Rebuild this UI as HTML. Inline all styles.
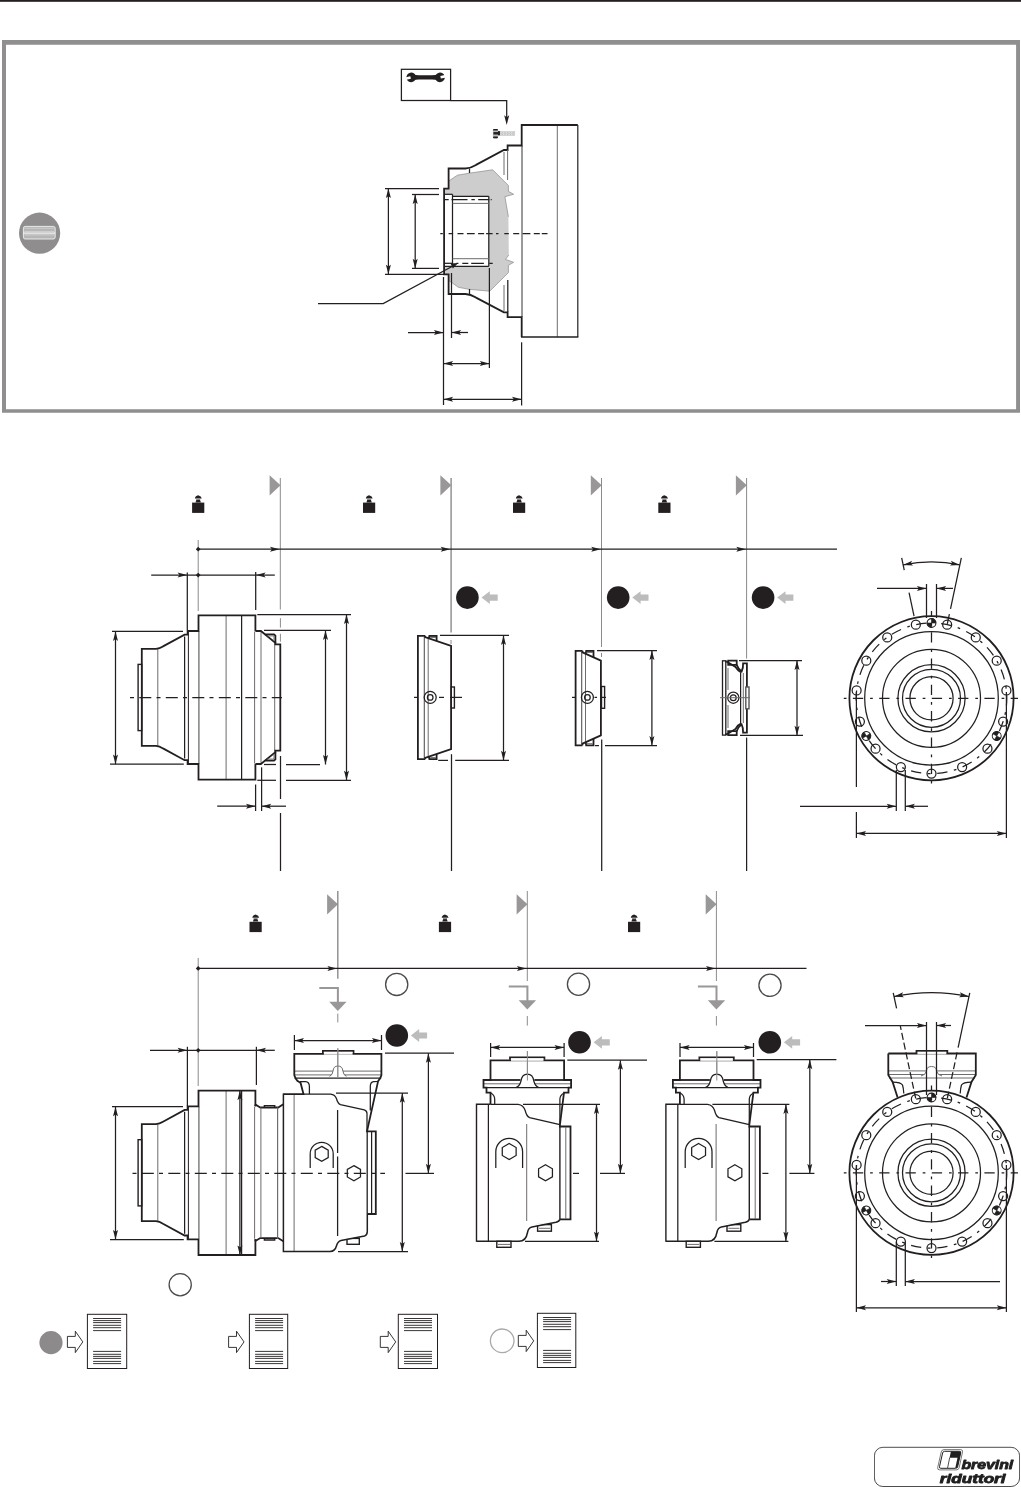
<!DOCTYPE html>
<html lang="it"><head><meta charset="utf-8"><title>brevini riduttori</title>
<style>
html,body{margin:0;padding:0;background:#fff;}
body{width:1021px;height:1487px;overflow:hidden;font-family:"Liberation Sans",sans-serif;}
svg{display:block}
.t{fill:none;stroke:#231f20;stroke-width:1.25}
.tw{fill:#fff;stroke:#231f20;stroke-width:1.2}
.k{fill:none;stroke:#231f20;stroke-width:1.8;stroke-linejoin:miter}
.k2{fill:#fff;stroke:#231f20;stroke-width:1.4}
.a{fill:#231f20;stroke:none}
.gd{fill:none;stroke:#6e6c6d;stroke-width:1}
.gl{fill:none;stroke:#8c8a8b;stroke-width:1}
.gl2{fill:none;stroke:#8c8a8b;stroke-width:1.4}
.gf{fill:#cdcdcd;stroke:none}
.gflag{fill:#999798;stroke:none}
.gbent{fill:none;stroke:#999798;stroke-width:2}
.garrow{fill:#bcbcbc;stroke:none}
</style></head>
<body>
<svg width="1021" height="1487" viewBox="0 0 1021 1487">
<rect x="0" y="0" width="1021" height="1.8" fill="#231f20"/>
<path fill="#908e8f" fill-rule="evenodd" d="M2,40.1 H1020 V412.8 H2 Z M6,44.8 V409.2 H1016.1 V44.8 Z"/>
<g id="keyicon">
<circle cx="39.6" cy="233.2" r="20.6" fill="#8f8d8e"/>
<rect x="23.4" y="226.4" width="31.8" height="12.6" rx="1.8" fill="#b6b6b6" stroke="#f2f2f2" stroke-width="0.9"/>
<line x1="23.4" y1="233.1" x2="55.2" y2="233.1" stroke="#ffffff" stroke-width="1"/>
<line x1="24.4" y1="228.3" x2="54.2" y2="228.3" stroke="#d0d0d0" stroke-width="0.9"/>
<line x1="24.4" y1="231.4" x2="54.2" y2="231.4" stroke="#d8d8d8" stroke-width="0.8"/>
<line x1="24.4" y1="234.9" x2="54.2" y2="234.9" stroke="#d8d8d8" stroke-width="0.8"/>
</g>
<g id="top">
<rect class="t" x="401.4" y="69.3" width="49.2" height="31.2"/>
<g fill="#231f20" stroke="none"><path d="M412,74.2 Q416,75.3 419,75.3 L432,75.3 Q435,75.3 439,74.2 L439,80.6 Q435,79.5 432,79.5 L419,79.5 Q416,79.5 412,80.6 z"/><g transform="rotate(-12 411.2 77.4)"><path d="M406.4,77.4 a4.8,4.8 0 1 0 9.6,0 a4.8,4.8 0 1 0 -9.6,0 z"/><rect x="405" y="76.1" width="5.6" height="2.6" fill="#fff"/></g><g transform="rotate(-12 440 77.4)"><path d="M435.2,77.4 a4.8,4.8 0 1 0 9.6,0 a4.8,4.8 0 1 0 -9.6,0 z"/><rect x="440.6" y="76.1" width="5.6" height="2.6" fill="#fff"/></g></g>
<polyline class="t" points="450.6,100.5 506.7,100.5 506.7,118"/>
<polygon class="a" points="506.7,125 509.2,115.2 506.7,117.16 504.2,115.2"/>
<rect x="492.9" y="129" width="5.2" height="9.4" rx="1.3" fill="#b9b9b9"/>
<rect x="493.1" y="129.1" width="4.8" height="1.5" rx="0.6" fill="#231f20"/><rect x="493.4" y="132.1" width="4.6" height="2.4" fill="#231f20"/><rect x="493.1" y="136.5" width="4.8" height="1.7" rx="0.6" fill="#231f20"/>
<rect x="498" y="131.1" width="2.1" height="4.3" fill="#231f20"/>
<rect x="500.2" y="131.5" width="14.6" height="4.1" fill="#e4e4e4" stroke="#bdbdbd" stroke-width="0.5"/>
<path d="M501.6,132.1 l1.4,1.5 l-1.4,1.5 M503,132.1 l-1.4,1.5 l1.4,1.5" stroke="#a8a8a8" stroke-width="0.5" fill="none"/>
<path d="M504.3,132.1 l1.4,1.5 l-1.4,1.5 M505.7,132.1 l-1.4,1.5 l1.4,1.5" stroke="#a8a8a8" stroke-width="0.5" fill="none"/>
<path d="M507,132.1 l1.4,1.5 l-1.4,1.5 M508.4,132.1 l-1.4,1.5 l1.4,1.5" stroke="#a8a8a8" stroke-width="0.5" fill="none"/>
<path d="M509.7,132.1 l1.4,1.5 l-1.4,1.5 M511.1,132.1 l-1.4,1.5 l1.4,1.5" stroke="#a8a8a8" stroke-width="0.5" fill="none"/>
<path d="M512.4,132.1 l1.4,1.5 l-1.4,1.5 M513.8,132.1 l-1.4,1.5 l1.4,1.5" stroke="#a8a8a8" stroke-width="0.5" fill="none"/>
<polygon class="gf" points="448.6,188.6 448.6,181.1 457.4,175.2 469.2,173.2 492.7,169.8 508.4,185.5 508.4,191.3 513.7,194.3 504.9,196.7 508.4,216.8 508.8,255 505.4,259.4 513.7,262.3 508.4,265.3 508.4,272.6 489.7,291.2 469.2,289.3 458.4,287.3 451.5,282.4 448.6,280.5 448.6,274.3 444.2,274.3 444.2,188.6"/>
<polyline class="gl" points="448.6,181.1 457.4,175.2 469.2,173.2 492.7,169.8 508.4,185.5 508.4,191.3 513.7,194.3 504.9,196.7 508.4,216.8" style="stroke-width:0.7"/>
<polyline class="gl" points="508.8,255 505.4,259.4 513.7,262.3 508.4,265.3 508.4,272.6 489.7,291.2 469.2,289.3 458.4,287.3 451.5,282.4 448.6,280.5" style="stroke-width:0.7"/>
<rect x="444.5" y="194.3" width="8" height="72" fill="#fff"/>
<rect x="452.5" y="196.3" width="36.3" height="70" fill="#fff"/>
<line class="gd" x1="522" y1="145.5" x2="522" y2="317" style="stroke:#777;stroke-width:1.5"/>
<line class="gd" x1="557.3" y1="125" x2="557.3" y2="337"/>
<polyline class="t" points="577.8,125 577.8,337" style="stroke-width:1.2"/>
<path class="k" d="M577.8,125 L521.7,125 L521.7,145.5 L507.6,145.5 L507.6,150 L503.9,150 L476,164.9 Q470.5,168.2 465.5,168.5 L448.6,168.5 L448.6,188.6 L444.1,188.6 L444.1,274.3 L448.6,274.3 L448.6,294 L465.5,294 Q470.5,294.3 476,297.6 L503.9,312.4 L507.6,312.4 L507.6,317.2 L521.7,317.2 L521.7,337"/>
<line class="t" x1="521" y1="337" x2="578.3" y2="337" style="stroke-width:1.4"/>
<line class="gd" x1="507.6" y1="150" x2="507.6" y2="180"/>
<line class="gd" x1="504" y1="152" x2="504" y2="175"/>
<line class="t" x1="507.8" y1="280" x2="507.8" y2="312"/>
<line class="gd" x1="504" y1="285" x2="504" y2="311"/>
<line class="t" x1="469.5" y1="168.5" x2="469.5" y2="173"/>
<line class="t" x1="469.5" y1="289" x2="469.5" y2="294"/>
<line class="t" x1="444.5" y1="194.3" x2="452.5" y2="194.3"/>
<line class="t" x1="452.5" y1="194.3" x2="452.5" y2="266.3"/>
<line class="t" x1="452.5" y1="196.3" x2="488.8" y2="196.3"/>
<line class="t" x1="444.5" y1="266.3" x2="488.8" y2="266.3"/>
<line class="t" x1="488.8" y1="196.3" x2="488.8" y2="266.3"/>
<line class="gd" x1="452.5" y1="203.4" x2="488.8" y2="203.4"/>
<line class="gd" x1="452.5" y1="258.7" x2="488.8" y2="258.7"/>
<line class="t" x1="444.7" y1="263.3" x2="452.5" y2="263.3"/>
<line class="t" x1="444.7" y1="199.5" x2="491.7" y2="199.5" stroke-dasharray="4 2.8 16 3.9 3.4 3.4 11 1.5 3 0"/>
<line class="t" x1="456.4" y1="263.3" x2="492.7" y2="263.3" stroke-dasharray="2 3.9 6 2.9 12.7 5.4 4 0"/>
<line class="t" x1="440.3" y1="233.5" x2="547.5" y2="233.5" stroke-dasharray="2.5 5.8 4.5 4.4 6 3.4 7.8 3.4 6 2 6.5 3.4"/>
<line class="t" x1="385" y1="188.5" x2="439" y2="188.5"/>
<line class="t" x1="385" y1="274.3" x2="444" y2="274.3"/>
<line class="t" x1="388.4" y1="188.5" x2="388.4" y2="274.3"/>
<polygon class="a" points="388.4,188.5 385.9,198.1 388.4,196.18 390.9,198.1"/>
<polygon class="a" points="388.4,274.3 390.9,264.7 388.4,266.62 385.9,264.7"/>
<line class="t" x1="412" y1="194.5" x2="439" y2="194.5"/>
<line class="t" x1="412" y1="268.4" x2="439" y2="268.4"/>
<line class="t" x1="415.2" y1="194.5" x2="415.2" y2="268.4"/>
<polygon class="a" points="415.2,194.5 412.7,204.1 415.2,202.18 417.7,204.1"/>
<polygon class="a" points="415.2,268.4 417.7,258.8 415.2,260.72 412.7,258.8"/>
<polyline class="t" points="318,303.5 383.2,303.5 452,266.5"/>
<polygon class="a" points="458.2,263 450.6,263.6 452.8,268.6"/>
<line class="t" x1="443.5" y1="277" x2="443.5" y2="405"/>
<line class="t" x1="451.5" y1="273" x2="451.5" y2="338"/>
<line class="t" x1="489.4" y1="268" x2="489.4" y2="368"/>
<line class="t" x1="521.6" y1="342.3" x2="521.6" y2="405.5"/>
<line class="t" x1="408" y1="332.5" x2="443.5" y2="332.5"/>
<polygon class="a" points="443.5,332.5 433.9,330 435.82,332.5 433.9,335"/>
<line class="t" x1="451.5" y1="332.5" x2="468" y2="332.5"/>
<polygon class="a" points="451.5,332.5 461.1,335 459.18,332.5 461.1,330"/>
<line class="t" x1="443.5" y1="363.5" x2="489.4" y2="363.5"/>
<polygon class="a" points="443.5,363.5 453.1,366 451.18,363.5 453.1,361"/>
<polygon class="a" points="489.4,363.5 479.8,361 481.72,363.5 479.8,366"/>
<line class="t" x1="443.5" y1="399.3" x2="521.6" y2="399.3"/>
<polygon class="a" points="443.5,399.3 453.1,401.8 451.18,399.3 453.1,396.8"/>
<polygon class="a" points="521.6,399.3 512,396.8 513.92,399.3 512,401.8"/>
</g>
<g id="sec2">
<polygon class="gflag" points="269.6,475.2 269.6,495.4 280.5,485.3"/>
<line class="gl" x1="280.3" y1="478" x2="280.3" y2="609.5"/>
<polygon class="gflag" points="440.4,475.2 440.4,495.4 451.3,485.3"/>
<line class="gl2" x1="451.1" y1="478" x2="451.1" y2="632.5"/>
<polygon class="gflag" points="590.8,475.2 590.8,495.4 601.7,485.3"/>
<line class="gl" x1="601.5" y1="478" x2="601.5" y2="647"/>
<polygon class="gflag" points="735.9,475.2 735.9,495.4 746.8,485.3"/>
<line class="gl" x1="746.6" y1="478" x2="746.6" y2="658.6"/>
<line class="gl" x1="280.4" y1="618.2" x2="280.4" y2="627.6"/>
<line class="gl" x1="280.4" y1="633.8" x2="280.4" y2="641.7"/>
<line class="gl" x1="451" y1="640" x2="451" y2="644"/>
<line class="gl" x1="601.5" y1="653" x2="601.5" y2="657"/>
<g fill="#231f20"><path d="M194.9,498.6 Q195,496.1 198.2,495.2 Q201.4,496.1 201.8,498.6 z"/><path d="M196.4,499.8 L200,499.8 L200.9,502.4 L195.5,502.4 z"/><rect x="196.2" y="498.6" width="4" height="1.4" fill="#8a8a8a"/><rect x="192.1" y="502.6" width="12.2" height="10.3"/></g>
<g fill="#231f20"><path d="M365.8,498.6 Q365.9,496.1 369.1,495.2 Q372.3,496.1 372.7,498.6 z"/><path d="M367.3,499.8 L370.9,499.8 L371.8,502.4 L366.4,502.4 z"/><rect x="367.1" y="498.6" width="4" height="1.4" fill="#8a8a8a"/><rect x="363" y="502.6" width="12.2" height="10.3"/></g>
<g fill="#231f20"><path d="M515.8,498.6 Q515.9,496.1 519.1,495.2 Q522.3,496.1 522.7,498.6 z"/><path d="M517.3,499.8 L520.9,499.8 L521.8,502.4 L516.4,502.4 z"/><rect x="517.1" y="498.6" width="4" height="1.4" fill="#8a8a8a"/><rect x="513" y="502.6" width="12.2" height="10.3"/></g>
<g fill="#231f20"><path d="M661.1,498.6 Q661.2,496.1 664.4,495.2 Q667.6,496.1 668,498.6 z"/><path d="M662.6,499.8 L666.2,499.8 L667.1,502.4 L661.7,502.4 z"/><rect x="662.4" y="498.6" width="4" height="1.4" fill="#8a8a8a"/><rect x="658.3" y="502.6" width="12.2" height="10.3"/></g>
<line class="gl" x1="198.2" y1="540" x2="198.2" y2="611"/>
<line class="t" x1="198.2" y1="549.2" x2="837" y2="549.2"/>
<polygon class="a" points="195.8,549.2 198.2,546.8 200.6,549.2 198.2,551.6"/>
<polygon class="a" points="279.6,549.2 270,546.7 271.92,549.2 270,551.7"/>
<polygon class="a" points="450.3,549.2 440.7,546.7 442.62,549.2 440.7,551.7"/>
<polygon class="a" points="600.8,549.2 591.2,546.7 593.12,549.2 591.2,551.7"/>
<polygon class="a" points="745.9,549.2 736.3,546.7 738.22,549.2 736.3,551.7"/>
<line class="t" x1="151.2" y1="575.1" x2="187.2" y2="575.1"/>
<polygon class="a" points="187.2,575.1 177.6,572.6 179.52,575.1 177.6,577.6"/>
<line class="t" x1="187.2" y1="575.1" x2="256" y2="575.1"/>
<polygon class="a" points="195.8,575.1 198.2,572.7 200.6,575.1 198.2,577.5"/>
<line class="t" x1="256" y1="575.1" x2="274.8" y2="575.1"/>
<polygon class="a" points="256,575.1 265.6,577.6 263.68,575.1 265.6,572.6"/>
<line class="t" x1="187.3" y1="572.4" x2="187.3" y2="630"/>
<line class="t" x1="255.7" y1="572" x2="255.7" y2="610"/>
<line class="gd" x1="157.8" y1="649" x2="157.8" y2="746"/>
<line class="t" x1="184.6" y1="636.5" x2="184.6" y2="758.5"/>
<line class="t" x1="188.4" y1="631.5" x2="188.4" y2="763.5" style="stroke-width:1"/>
<line class="gd" x1="198.9" y1="631.5" x2="198.9" y2="763.5" style="stroke-width:1.4;stroke:#777"/>
<line class="gd" x1="226.1" y1="615.3" x2="226.1" y2="779.7"/>
<line class="t" x1="241.6" y1="615.3" x2="241.6" y2="779.7"/>
<line class="gd" x1="254.6" y1="631.5" x2="254.6" y2="763.5"/>
<rect class="k2" x="138.1" y="664.4" width="3.6" height="66.2"/>
<path class="k" d="M255.4,631 L255.4,615.3 L198.5,615.3 L198.5,631 L187.6,631 L187.6,634.6 L184.6,634.6 L163,646.4 Q159.5,648.5 156,648.9 L141.8,648.9 L141.8,745.9 L156,745.9 Q159.5,746.3 163,748.4 L184.6,760.2 L187.6,760.2 L187.6,764 L198.5,764 L198.5,779.7 L255.4,779.7 L255.4,764"/>
<line class="gd" x1="261" y1="631.5" x2="261" y2="763.5"/>
<line class="gd" x1="274.7" y1="642.5" x2="274.7" y2="752.5"/>
<polyline class="k" points="255.4,631 260.9,631 275.4,642.9 275.4,644.3 280.3,644.3 280.3,697.5"/>
<polyline class="k" points="265.3,634.3 274,634.3 275.4,635.7 275.4,642.9"/>
<polyline class="gd" points="267.5,635.9 274,635.9 274,641"/>
<polyline class="k" points="255.4,764 260.9,764 275.4,752.1 275.4,750.7 280.3,750.7 280.3,697.5"/>
<polyline class="k" points="265.3,760.7 274,760.7 275.4,759.3 275.4,752.1"/>
<polyline class="gd" points="267.5,759.1 274,759.1 274,754"/>
<line class="t" x1="130" y1="697.5" x2="282" y2="697.5" stroke-dasharray="12 5.2 4 5.3" stroke-dashoffset="17.2"/>
<line class="t" x1="112" y1="631.4" x2="183" y2="631.4"/>
<line class="t" x1="110" y1="764.2" x2="183.8" y2="764.2"/>
<line class="t" x1="115.5" y1="631.4" x2="115.5" y2="764.2"/>
<polygon class="a" points="115.5,631.4 113,641 115.5,639.08 118,641"/>
<polygon class="a" points="115.5,764.2 118,754.6 115.5,756.52 113,754.6"/>
<line class="t" x1="257.3" y1="614.5" x2="351" y2="614.5"/>
<line class="t" x1="264" y1="630.4" x2="331" y2="630.4"/>
<line class="t" x1="264" y1="764.5" x2="276" y2="764.5"/>
<line class="t" x1="286" y1="764.5" x2="320" y2="764.5"/>
<line class="t" x1="257.3" y1="780.3" x2="276" y2="780.3"/>
<line class="t" x1="286" y1="780.3" x2="351" y2="780.3"/>
<line class="t" x1="325.5" y1="630.4" x2="325.5" y2="764.5"/>
<polygon class="a" points="325.5,630.4 323,640 325.5,638.08 328,640"/>
<polygon class="a" points="325.5,764.5 328,754.9 325.5,756.82 323,754.9"/>
<line class="t" x1="346.5" y1="614.5" x2="346.5" y2="780.3"/>
<polygon class="a" points="346.5,614.5 344,624.1 346.5,622.18 349,624.1"/>
<polygon class="a" points="346.5,780.3 349,770.7 346.5,772.62 344,770.7"/>
<line class="t" x1="255.6" y1="784.5" x2="255.6" y2="811"/>
<line class="t" x1="261.6" y1="767.3" x2="261.6" y2="811"/>
<line class="t" x1="280.5" y1="756" x2="280.5" y2="799"/>
<line class="t" x1="280.5" y1="813" x2="280.5" y2="871"/>
<line class="t" x1="217.2" y1="806.2" x2="255.6" y2="806.2"/>
<polygon class="a" points="255.6,806.2 246,803.7 247.92,806.2 246,808.7"/>
<line class="t" x1="261.6" y1="806.2" x2="286" y2="806.2"/>
<polygon class="a" points="261.6,806.2 271.2,808.7 269.28,806.2 271.2,803.7"/>
<circle cx="467.4" cy="597.6" r="11.3" fill="#231f20"/>
<polygon class="garrow" points="481.5,597.6 489.8,591.2 489.8,594.5 497.7,594.5 497.7,600.7 489.8,600.7 489.8,604"/>
<circle cx="618.2" cy="597.6" r="11.3" fill="#231f20"/>
<polygon class="garrow" points="632.3,597.6 640.6,591.2 640.6,594.5 648.5,594.5 648.5,600.7 640.6,600.7 640.6,604"/>
<circle cx="763.1" cy="597.6" r="11.3" fill="#231f20"/>
<polygon class="garrow" points="777.2,597.6 785.5,591.2 785.5,594.5 793.4,594.5 793.4,600.7 785.5,600.7 785.5,604"/>
<path class="k" d="M425.1,635.8 L417.9,635.8 L417.9,759.2 L425.1,759.2"/>
<line class="t" x1="424.3" y1="636.4" x2="424.3" y2="758.6" style="stroke-width:1.1;stroke:#555"/>
<line class="gd" x1="428.2" y1="638.3" x2="428.2" y2="756.7"/>
<path class="k" d="M425.1,635.8 L425.1,637 L451.1,645.8 L451.1,749 L425.1,758 L425.1,759.2"/>
<path class="k" d="M428.9,638.29 L429.4,635.8 L436.6,635.8 L436.6,640.89"/>
<path class="k" d="M428.9,756.71 L429.4,759.2 L436.6,759.2 L436.6,754.11"/>
<line class="k" x1="430.2" y1="637.1" x2="435.8" y2="637.1" style="stroke-width:1"/>
<line class="gd" x1="430.2" y1="757.6" x2="435.8" y2="757.6"/>
<circle class="t" cx="430.2" cy="697.4" r="6"/>
<circle class="t" cx="430.2" cy="697.4" r="2.8"/>
<rect class="k2" x="451.3" y="687" width="3.1" height="21"/>
<line class="t" x1="414" y1="697.4" x2="418" y2="697.4"/>
<line class="t" x1="439" y1="697.4" x2="444" y2="697.4"/>
<line class="t" x1="450" y1="697.4" x2="462" y2="697.4"/>
<line class="t" x1="440" y1="635.4" x2="509" y2="635.4"/>
<line class="t" x1="438.2" y1="760.4" x2="448" y2="760.4"/>
<line class="t" x1="455.2" y1="760.4" x2="509" y2="760.4"/>
<line class="t" x1="503.5" y1="635.4" x2="503.5" y2="760.4"/>
<polygon class="a" points="503.5,635.4 501,645 503.5,643.08 506,645"/>
<polygon class="a" points="503.5,760.4 506,750.8 503.5,752.72 501,750.8"/>
<line class="t" x1="451.5" y1="754.2" x2="451.5" y2="871"/>
<path class="k" d="M582.5,650.8 L575.6,650.8 L575.6,745.3 L582.5,745.3"/>
<line class="t" x1="581.7" y1="651.4" x2="581.7" y2="744.7" style="stroke-width:1.1;stroke:#555"/>
<line class="gd" x1="585.5" y1="653.3" x2="585.5" y2="742.8"/>
<path class="k" d="M582.5,650.8 L582.5,652.4 L600.9,660.7 L600.9,735.4 L582.5,743.7 L582.5,745.3"/>
<path class="k" d="M585.7,653.84 L586.2,650.8 L593.5,650.8 L593.5,657.36"/>
<path class="k" d="M585.7,742.26 L586.2,745.3 L593.5,745.3 L593.5,738.74"/>
<line class="k" x1="587" y1="652.1" x2="592.7" y2="652.1" style="stroke-width:1"/>
<line class="gd" x1="587" y1="743.7" x2="592.7" y2="743.7"/>
<circle class="t" cx="587.4" cy="697.4" r="6"/>
<circle class="t" cx="587.4" cy="697.4" r="2.8"/>
<rect class="k2" x="601.5" y="686.5" width="3.1" height="21.8"/>
<line class="t" x1="572" y1="697.4" x2="576" y2="697.4"/>
<line class="t" x1="594.5" y1="697.4" x2="597" y2="697.4"/>
<line class="t" x1="600" y1="697.4" x2="606" y2="697.4"/>
<line class="t" x1="597" y1="650.5" x2="657" y2="650.5"/>
<line class="t" x1="595" y1="745.6" x2="599" y2="745.6"/>
<line class="t" x1="605" y1="745.6" x2="657" y2="745.6"/>
<line class="t" x1="651.9" y1="650.5" x2="651.9" y2="745.6"/>
<polygon class="a" points="651.9,650.5 649.4,660.1 651.9,658.18 654.4,660.1"/>
<polygon class="a" points="651.9,745.6 654.4,736 651.9,737.92 649.4,736"/>
<line class="t" x1="601.7" y1="739.5" x2="601.7" y2="871"/>
<rect class="k" x="722.5" y="660.8" width="3.3" height="74.3" style="stroke-width:1.3;fill:#fff"/>
<polygon class="k" points="728.2,660.7 736.7,660.7 736.7,664.8 728.2,664.8"/>
<polygon class="k" points="728.2,735.2 736.7,735.2 736.7,731.1 728.2,731.1"/>
<path class="k" d="M725.4,661.4 L727.5,662 L735.5,667 Q738.5,671.5 741.2,672.5 M725.4,734.5 L727.5,733.9 L735.5,728.9 Q738.5,724.4 741.2,723.4"/>
<path class="k" d="M736.7,664.8 Q738.6,669.5 741.6,671.6 Q743.4,668 743.1,663.3 L746.9,663.3 L746.9,732.6 L743.1,732.6 Q743.4,727.9 741.6,724.3 Q738.6,726.4 736.7,731.1"/>
<line class="t" x1="740.6" y1="673" x2="740.6" y2="723"/>
<line class="gd" x1="743.3" y1="673" x2="743.3" y2="723"/>
<line class="gd" x1="728" y1="668" x2="728" y2="690"/>
<line class="gd" x1="728" y1="705" x2="728" y2="728"/>
<rect class="k2" x="745.8" y="687" width="3.2" height="21.8" style="stroke:#555"/>
<circle class="t" cx="733.3" cy="697.7" r="5.6"/>
<circle class="t" cx="733.3" cy="697.7" r="2.9"/>
<line class="gd" x1="720" y1="697.7" x2="750" y2="697.7"/>
<line class="t" x1="739" y1="660.5" x2="802" y2="660.5"/>
<line class="t" x1="740" y1="735.4" x2="803" y2="735.4"/>
<line class="t" x1="797" y1="660.5" x2="797" y2="735.4"/>
<polygon class="a" points="797,660.5 794.5,670.1 797,668.18 799.5,670.1"/>
<polygon class="a" points="797,735.4 799.5,725.8 797,727.72 794.5,725.8"/>
<line class="t" x1="746.6" y1="737.6" x2="746.6" y2="871"/>
<circle class="k" cx="931.5" cy="698.3" r="82.1"/>
<path class="t" d="M931.5,623 A75.3,75.3 0 1 1 931.49,623" stroke-dasharray="10.3 6.7 2.7 6.63" stroke-dashoffset="16.63"/>
<circle class="t" cx="931.5" cy="698.3" r="66.8"/>
<circle class="t" cx="931.5" cy="698.3" r="49"/>
<circle class="t" cx="931.5" cy="698.3" r="33.6"/>
<circle class="t" cx="931.5" cy="698.3" r="29"/>
<circle class="t" cx="931.5" cy="698.3" r="21.6"/>
<circle class="t" cx="947.16" cy="624.65" r="4.5"/>
<circle class="t" cx="975.76" cy="637.38" r="4.5"/>
<circle class="t" cx="996.71" cy="660.65" r="4.5"/>
<circle class="t" cx="1006.39" cy="690.43" r="4.5"/>
<circle class="t" cx="1003.11" cy="721.57" r="4.5"/>
<circle class="t" cx="987.46" cy="748.69" r="4.5"/>
<circle class="t" cx="962.13" cy="767.09" r="4.5"/>
<circle class="t" cx="931.5" cy="773.6" r="4.5"/>
<circle class="t" cx="900.87" cy="767.09" r="4.5"/>
<circle class="t" cx="875.54" cy="748.69" r="4.5"/>
<circle class="t" cx="859.89" cy="721.57" r="4.5"/>
<circle class="t" cx="856.61" cy="690.43" r="4.5"/>
<circle class="t" cx="866.29" cy="660.65" r="4.5"/>
<circle class="t" cx="887.24" cy="637.38" r="4.5"/>
<circle class="t" cx="915.84" cy="624.65" r="4.5"/>
<g transform="rotate(0 931.5 623)"><circle cx="931.5" cy="623" r="4.4" fill="#fff" stroke="#231f20" stroke-width="1.1"/><path d="M931.5,623 L931.5,618.6 A4.4,4.4 0 0 1 935.9,623 z M931.5,623 L931.5,627.4 A4.4,4.4 0 0 1 927.1,623 z" fill="#231f20" stroke="#231f20" stroke-width="0.6"/></g>
<g transform="rotate(120 996.71 735.95)"><circle cx="996.71" cy="735.95" r="4.4" fill="#fff" stroke="#231f20" stroke-width="1.1"/><path d="M996.71,735.95 L996.71,731.55 A4.4,4.4 0 0 1 1001.11,735.95 z M996.71,735.95 L996.71,740.35 A4.4,4.4 0 0 1 992.31,735.95 z" fill="#231f20" stroke="#231f20" stroke-width="0.6"/></g>
<g transform="rotate(240 866.29 735.95)"><circle cx="866.29" cy="735.95" r="4.4" fill="#fff" stroke="#231f20" stroke-width="1.1"/><path d="M866.29,735.95 L866.29,731.55 A4.4,4.4 0 0 1 870.69,735.95 z M866.29,735.95 L866.29,740.35 A4.4,4.4 0 0 1 861.89,735.95 z" fill="#231f20" stroke="#231f20" stroke-width="0.6"/></g>
<line class="t" x1="843" y1="698.3" x2="1018" y2="698.3" stroke-dasharray="10.3 6.9 2.7 6.4" stroke-dashoffset="16.4"/>
<line class="t" x1="931.5" y1="610.9" x2="931.5" y2="785.8" stroke-dasharray="10.3 6.9 2.7 6.4" stroke-dashoffset="5"/>
<line class="t" x1="950.52" y1="608.8" x2="961.34" y2="557.94"/>
<line class="t" x1="947.3" y1="623.96" x2="949.38" y2="614.18"/>
<line class="t" x1="914.04" y1="616.14" x2="909.05" y2="592.66"/>
<line class="t" x1="904.26" y1="570.16" x2="901.66" y2="557.94"/>
<path class="t" d="M903.14,564.88 A136.4,136.4 0 0 1 959.86,564.88"/>
<polygon class="a" points="903.14,564.88 913.04,565.59 910.69,563.48 912.12,560.67"/>
<polygon class="a" points="959.86,564.88 950.88,560.67 952.31,563.48 949.96,565.59"/>
<line class="t" x1="926.5" y1="584" x2="926.5" y2="618"/>
<line class="t" x1="936.5" y1="584" x2="936.5" y2="618"/>
<line class="t" x1="877" y1="588.4" x2="926.5" y2="588.4"/>
<polygon class="a" points="926.5,588.4 916.9,585.9 918.82,588.4 916.9,590.9"/>
<line class="t" x1="936.5" y1="588.4" x2="953" y2="588.4"/>
<polygon class="a" points="936.5,588.4 946.1,590.9 944.18,588.4 946.1,585.9"/>
<line class="t" x1="856.4" y1="692" x2="856.4" y2="787"/>
<line class="t" x1="856.4" y1="812" x2="856.4" y2="838"/>
<line class="t" x1="1006.4" y1="692" x2="1006.4" y2="838"/>
<line class="t" x1="856.4" y1="833.4" x2="1006.4" y2="833.4"/>
<polygon class="a" points="856.4,833.4 866,835.9 864.08,833.4 866,830.9"/>
<polygon class="a" points="1006.4,833.4 996.8,830.9 998.72,833.4 996.8,835.9"/>
<line class="t" x1="896.3" y1="770" x2="896.3" y2="811"/>
<line class="t" x1="905.3" y1="770" x2="905.3" y2="811"/>
<line class="t" x1="800" y1="806.3" x2="896.3" y2="806.3"/>
<polygon class="a" points="896.3,806.3 886.7,803.8 888.62,806.3 886.7,808.8"/>
<line class="t" x1="905.3" y1="806.3" x2="928" y2="806.3"/>
<polygon class="a" points="905.3,806.3 914.9,808.8 912.98,806.3 914.9,803.8"/>
</g>
<g id="sec3">
<polygon class="gflag" points="327.1,894.2 327.1,914.4 338,904.3"/>
<line class="gl2" x1="337.8" y1="891" x2="337.8" y2="978.7"/>
<polygon class="gflag" points="516.6,894.2 516.6,914.4 527.5,904.3"/>
<line class="gl" x1="527.3" y1="891" x2="527.3" y2="981"/>
<polygon class="gflag" points="705.7,894.2 705.7,914.4 716.6,904.3"/>
<line class="gl" x1="716.4" y1="891" x2="716.4" y2="981"/>
<polyline class="gbent" points="319.3,988.1 337.9,988.1 337.9,1002.6"/>
<polygon class="gflag" points="329.2,1001.7 346.6,1001.7 337.8,1011.1"/>
<line class="gl" x1="337.8" y1="1013.6" x2="337.8" y2="1022.4"/>
<polyline class="gbent" points="508.8,986.6 527.4,986.6 527.4,1001.1"/>
<polygon class="gflag" points="518.7,1000.2 536.1,1000.2 527.3,1009.4"/>
<line class="gl" x1="527.3" y1="1016" x2="527.3" y2="1025.6"/>
<polyline class="gbent" points="697.9,986.6 716.5,986.6 716.5,1001.1"/>
<polygon class="gflag" points="707.8,1000.2 725.2,1000.2 716.4,1009.4"/>
<line class="gl" x1="716.4" y1="1016" x2="716.4" y2="1025.6"/>
<g fill="#231f20"><path d="M252.3,917.8 Q252.4,915.3 255.6,914.4 Q258.8,915.3 259.2,917.8 z"/><path d="M253.8,919 L257.4,919 L258.3,921.6 L252.9,921.6 z"/><rect x="253.6" y="917.8" width="4" height="1.4" fill="#8a8a8a"/><rect x="249.5" y="921.8" width="12.2" height="10.3"/></g>
<g fill="#231f20"><path d="M441.7,917.8 Q441.8,915.3 445,914.4 Q448.2,915.3 448.6,917.8 z"/><path d="M443.2,919 L446.8,919 L447.7,921.6 L442.3,921.6 z"/><rect x="443" y="917.8" width="4" height="1.4" fill="#8a8a8a"/><rect x="438.9" y="921.8" width="12.2" height="10.3"/></g>
<g fill="#231f20"><path d="M630.8,917.8 Q630.9,915.3 634.1,914.4 Q637.3,915.3 637.7,917.8 z"/><path d="M632.3,919 L635.9,919 L636.8,921.6 L631.4,921.6 z"/><rect x="632.1" y="917.8" width="4" height="1.4" fill="#8a8a8a"/><rect x="628" y="921.8" width="12.2" height="10.3"/></g>
<line class="gl" x1="198.2" y1="958" x2="198.2" y2="1086"/>
<line class="t" x1="198.2" y1="968.4" x2="806.5" y2="968.4"/>
<polygon class="a" points="195.8,968.4 198.2,966 200.6,968.4 198.2,970.8"/>
<polygon class="a" points="337,968.4 327.4,965.9 329.32,968.4 327.4,970.9"/>
<polygon class="a" points="526.5,968.4 516.9,965.9 518.82,968.4 516.9,970.9"/>
<polygon class="a" points="715.6,968.4 706,965.9 707.92,968.4 706,970.9"/>
<line class="t" x1="150" y1="1050.3" x2="187.2" y2="1050.3"/>
<polygon class="a" points="187.2,1050.3 177.6,1047.8 179.52,1050.3 177.6,1052.8"/>
<line class="t" x1="187.2" y1="1050.3" x2="256.4" y2="1050.3"/>
<polygon class="a" points="195.8,1050.3 198.2,1047.9 200.6,1050.3 198.2,1052.7"/>
<line class="t" x1="256.4" y1="1050.3" x2="274.8" y2="1050.3"/>
<polygon class="a" points="256.4,1050.3 266,1052.8 264.08,1050.3 266,1047.8"/>
<line class="t" x1="187.4" y1="1046.8" x2="187.4" y2="1106"/>
<line class="t" x1="256.4" y1="1046.8" x2="256.4" y2="1085"/>
<circle cx="396.7" cy="984.4" r="11.1" fill="#fff" stroke="#4a4a4a" stroke-width="1.3"/>
<circle cx="578.5" cy="984.2" r="11.1" fill="#fff" stroke="#4a4a4a" stroke-width="1.3"/>
<circle cx="770" cy="985.3" r="11.1" fill="#fff" stroke="#4a4a4a" stroke-width="1.3"/>
<circle cx="180.2" cy="1284.7" r="11.1" fill="#fff" stroke="#4a4a4a" stroke-width="1.3"/>
<line class="gd" x1="157.8" y1="1124.3" x2="157.8" y2="1221.3"/>
<line class="t" x1="184.6" y1="1111.8" x2="184.6" y2="1233.8"/>
<line class="t" x1="188.4" y1="1106.8" x2="188.4" y2="1238.8" style="stroke-width:1"/>
<line class="gd" x1="198.9" y1="1106.8" x2="198.9" y2="1238.8" style="stroke-width:1.4;stroke:#777"/>
<line class="gd" x1="226.1" y1="1090.6" x2="226.1" y2="1255"/>
<line class="t" x1="241.6" y1="1090.6" x2="241.6" y2="1255"/>
<line class="gd" x1="254.6" y1="1106.8" x2="254.6" y2="1238.8"/>
<rect class="k2" x="138.1" y="1139.7" width="3.6" height="66.2"/>
<path class="k" d="M255.4,1106.3 L255.4,1090.6 L198.5,1090.6 L198.5,1106.3 L187.6,1106.3 L187.6,1109.9 L184.6,1109.9 L163,1121.7 Q159.5,1123.8 156,1124.2 L141.8,1124.2 L141.8,1221.2 L156,1221.2 Q159.5,1221.6 163,1223.7 L184.6,1235.5 L187.6,1235.5 L187.6,1239.3 L198.5,1239.3 L198.5,1255 L255.4,1255 L255.4,1239.3"/>
<line class="t" x1="112" y1="1106.7" x2="183" y2="1106.7"/>
<line class="t" x1="110" y1="1239.5" x2="183.8" y2="1239.5"/>
<line class="t" x1="115.5" y1="1106.7" x2="115.5" y2="1239.5"/>
<polygon class="a" points="115.5,1106.7 113,1116.3 115.5,1114.38 118,1116.3"/>
<polygon class="a" points="115.5,1239.5 118,1229.9 115.5,1231.82 113,1229.9"/>
<line class="t" x1="239.9" y1="1090.6" x2="239.9" y2="1255"/>
<polygon class="a" points="239.9,1090.6 237.4,1100.2 239.9,1098.28 242.4,1100.2"/>
<polygon class="a" points="239.9,1255 242.4,1245.4 239.9,1247.32 237.4,1245.4"/>
<polyline class="k" points="255.4,1104.6 260.3,1107.5 278.2,1107.5 283.3,1104.3"/>
<polyline class="k" points="264.4,1107.5 264.4,1105.6 274.7,1105.6 274.7,1107.5" style="stroke-width:1.4"/>
<line class="k" x1="255.4" y1="1106.3" x2="255.4" y2="1104.6"/>
<polyline class="k" points="255.4,1241 260.3,1238.1 278.2,1238.1 283.3,1241.3"/>
<polyline class="k" points="264.4,1238.1 264.4,1240 274.7,1240 274.7,1238.1" style="stroke-width:1.4"/>
<line class="k" x1="255.4" y1="1239.3" x2="255.4" y2="1241"/>
<line class="gd" x1="260.9" y1="1107.5" x2="260.9" y2="1238.1"/>
<line class="gd" x1="277.6" y1="1107.5" x2="277.6" y2="1238.1"/>
<line class="gd" x1="294.1" y1="1094" x2="294.1" y2="1251.5"/>
<line class="gd" x1="277.6" y1="1107.5" x2="277.6" y2="1239"/>
<line class="gd" x1="294.6" y1="1071.1" x2="381.2" y2="1071.1"/>
<line class="gd" x1="294.6" y1="1074.9" x2="381.2" y2="1074.9"/>
<line class="t" x1="294.6" y1="1078.2" x2="381.2" y2="1078.2"/>
<path d="M329.5,1076.3 Q332.3,1075.6 333,1071 Q333.5,1066 337.9,1066 Q342.4,1066 342.9,1071 Q343.6,1075.6 346.5,1076.3 z" fill="#fff" stroke="none"/>
<path class="gd" d="M329.5,1076.3 Q332.3,1075.6 333,1071 Q333.5,1066 337.9,1066 Q342.4,1066 342.9,1071 Q343.6,1075.6 346.5,1076.3"/>
<rect class="k2" x="347" y="1238.4" width="12.3" height="5.9"/>
<polygon points="346,1237 360,1237 360,1236.5 346,1239.3" fill="#fff"/>
<path class="k" d="M283.4,1094.1 L303.5,1094.1 L300.6,1082.9 Q298.6,1081.8 297.6,1081.1 Q295.2,1078.4 294.3,1075.3 L294.3,1053.9 L381.4,1053.9 L381.4,1075.3 Q380.5,1078.5 378.1,1081.1 L367,1131.4 L375.8,1131.4 L375.8,1214 L367.3,1214"/>
<path class="k" d="M367.3,1214 L367.3,1231.5 Q367.2,1235.3 364.5,1236 L341,1240.5 Q337.8,1241.4 336.6,1245.5 Q335,1251.5 330,1251.5 L283.4,1251.5 L283.4,1093.4" style="stroke-width:1.5"/>
<polyline class="k" points="322.9,1053.4 322.9,1050.9 353.5,1050.9 353.5,1053.4"/>
<rect x="323.9" y="1051.9" width="28.6" height="2.9" fill="#fff"/>
<line class="gd" x1="324" y1="1054.3" x2="352.5" y2="1054.3" style="stroke-width:0.6;stroke:#aaa"/>
<line class="gl2" x1="337.8" y1="1048.2" x2="337.8" y2="1078"/>
<line class="t" x1="367.2" y1="1131.4" x2="367.2" y2="1214" style="stroke-width:1.3"/>
<line class="t" x1="371.6" y1="1132" x2="371.6" y2="1214"/>
<path class="t" d="M300,1081.7 L305.6,1081.7 Q309.4,1082 309.4,1086.4 L309.4,1094"/>
<path class="t" d="M378.3,1081.5 L373.6,1081.7 Q370.3,1082.2 370.3,1086.4 L370.3,1110.5"/>
<path class="t" d="M303.5,1094.1 L330.5,1094.1 Q335.2,1094.5 336.6,1099 Q337.6,1103.4 340.5,1104.6 L364.3,1109.9 Q367,1110.8 367,1113.5 L367,1131.4"/>
<line class="t" x1="337.6" y1="1109.9" x2="337.6" y2="1236" stroke-dasharray="43 3.5 90"/>
<polygon class="t" points="321.7,1146.4 328.2,1150.15 328.2,1157.65 321.7,1161.4 315.2,1157.65 315.2,1150.15"/>
<path class="t" d="M310.2,1167.9 L310.2,1153.8 A11.5,11.5 0 0 1 333.2,1153.8 L333.2,1167.9"/>
<polygon class="t" points="353.9,1165.6 360.48,1169.4 360.48,1177 353.9,1180.8 347.32,1177 347.32,1169.4"/>
<line class="t" x1="132.5" y1="1173.4" x2="385" y2="1173.4" stroke-dasharray="12 5.2 4 5.3" stroke-dashoffset="17.2"/>
<line class="t" x1="294.4" y1="1035" x2="294.4" y2="1050"/>
<line class="t" x1="381.5" y1="1035" x2="381.5" y2="1050"/>
<line class="t" x1="294.4" y1="1040.6" x2="381.5" y2="1040.6"/>
<polygon class="a" points="294.4,1040.6 304,1043.1 302.08,1040.6 304,1038.1"/>
<polygon class="a" points="381.5,1040.6 371.9,1038.1 373.82,1040.6 371.9,1043.1"/>
<circle cx="396.8" cy="1035.5" r="11.3" fill="#231f20"/>
<polygon class="garrow" points="410.9,1035.5 419.2,1029.1 419.2,1032.4 427.1,1032.4 427.1,1038.6 419.2,1038.6 419.2,1041.9"/>
<line class="t" x1="385" y1="1053.2" x2="454" y2="1053.2"/>
<line class="t" x1="336" y1="1093.1" x2="408" y2="1093.1"/>
<line class="t" x1="405.5" y1="1173.4" x2="434" y2="1173.4"/>
<line class="t" x1="338" y1="1251.5" x2="408" y2="1251.5"/>
<line class="t" x1="428.4" y1="1053.2" x2="428.4" y2="1173.4"/>
<polygon class="a" points="428.4,1053.2 425.9,1062.8 428.4,1060.88 430.9,1062.8"/>
<polygon class="a" points="428.4,1173.4 430.9,1163.8 428.4,1165.72 425.9,1163.8"/>
<line class="t" x1="402.3" y1="1093.1" x2="402.3" y2="1251.5"/>
<polygon class="a" points="402.3,1093.1 399.8,1102.7 402.3,1100.78 404.8,1102.7"/>
<polygon class="a" points="402.3,1251.5 404.8,1241.9 402.3,1243.82 399.8,1241.9"/>
<line class="t" x1="488.4" y1="1104.5" x2="488.4" y2="1241"/>
<line class="gd" x1="484" y1="1083.8" x2="571" y2="1083.8"/>
<path class="t" d="M516.2,1087.3 Q519.6,1086.3 521,1081 Q522,1074.1 527.4,1074.1 Q532.8,1074.1 533.8,1081 Q535.2,1086.3 538.6,1087.3" style="fill:#fff"/>
<line class="gl" x1="527.4" y1="1051.2" x2="527.4" y2="1080.5"/>
<line class="gd" x1="526.7" y1="1124" x2="526.7" y2="1221"/>
<rect class="k2" x="537.6" y="1224.6" width="13.8" height="6.6"/>
<line class="gd" x1="539" y1="1228.3" x2="550" y2="1228.3"/>
<polygon points="536.5,1223.5 552.5,1223.5 552.5,1222.6 536.5,1225.7" fill="#fff"/>
<path class="k" d="M490.5,1104.3 L490.5,1092.7 L486.5,1092.7 L486.5,1087.6 L483.5,1087.6 L483.5,1080 L490.5,1080 L490.5,1060.3 L564.1,1060.3 L564.1,1080 L571.1,1080 L571.1,1087.6 L568.5,1087.6 L568.5,1092.7 L564,1092.7 L559.9,1125 L559.9,1126.5 L570.5,1126.5 L570.5,1219.3 L559.9,1219.3"/>
<path class="k" d="M559.9,1219.3 Q559.3,1221.5 556,1222.3 L532,1227 Q528.3,1227.9 527.5,1232.5 Q526,1241.3 519,1241.3 L476.5,1241.3" style="stroke-width:1.5"/>
<polyline class="t" points="476.5,1241.8 476.5,1104.3 490.5,1104.3" style="stroke-width:1.4"/>
<polyline class="k" points="510,1059.8 510,1057.3 544.4,1057.3 544.4,1059.8"/>
<rect x="511" y="1058.3" width="32.4" height="3" fill="#fff"/>
<line class="gd" x1="511" y1="1060.8" x2="543.4" y2="1060.8" style="stroke-width:0.6;stroke:#aaa"/>
<line class="gl" x1="527.4" y1="1051.2" x2="527.4" y2="1074"/>
<line class="k" x1="490.5" y1="1080" x2="520.5" y2="1080"/>
<line class="k" x1="534.3" y1="1080" x2="564.1" y2="1080"/>
<line class="t" x1="486.5" y1="1087.6" x2="568.5" y2="1087.6"/>
<line class="t" x1="559.9" y1="1126.5" x2="559.9" y2="1219.3" style="stroke-width:1.4"/>
<line class="gd" x1="565.8" y1="1127" x2="565.8" y2="1219"/>
<path class="t" d="M490.8,1093 Q494.5,1095 494.7,1099 L494.7,1104.3"/>
<path class="t" d="M563.6,1093.2 Q560.2,1095 559.9,1099 L559.9,1124"/>
<path class="t" d="M490.5,1104.3 L518.2,1104.3 Q523.4,1104.9 525.2,1110.5 Q526.4,1116 529.6,1117.6 L559.9,1124.7"/>
<polygon class="t" points="509.2,1143.5 516.13,1147.5 516.13,1155.5 509.2,1159.5 502.27,1155.5 502.27,1147.5"/>
<path class="t" d="M495.8,1167.9 L495.8,1151.7 A13.4,13.4 0 0 1 522.6,1151.7 L522.6,1167.9"/>
<polygon class="t" points="545.5,1164.8 552.43,1168.8 552.43,1176.8 545.5,1180.8 538.57,1176.8 538.57,1168.8"/>
<rect class="k2" x="496.8" y="1241.3" width="14.2" height="6"/>
<line class="gd" x1="498" y1="1244.4" x2="510" y2="1244.4"/>
<line class="t" x1="573" y1="1173.4" x2="579" y2="1173.4"/>
<line class="t" x1="490.6" y1="1043" x2="490.6" y2="1057"/>
<line class="t" x1="564.1" y1="1043" x2="564.1" y2="1057"/>
<line class="t" x1="490.6" y1="1047.4" x2="564.1" y2="1047.4"/>
<polygon class="a" points="490.6,1047.4 500.2,1049.9 498.28,1047.4 500.2,1044.9"/>
<polygon class="a" points="564.1,1047.4 554.5,1044.9 556.42,1047.4 554.5,1049.9"/>
<circle cx="579.5" cy="1042.3" r="11.3" fill="#231f20"/>
<polygon class="garrow" points="593.6,1042.3 601.9,1035.9 601.9,1039.2 609.8,1039.2 609.8,1045.4 601.9,1045.4 601.9,1048.7"/>
<line class="t" x1="567.3" y1="1060.2" x2="647" y2="1060.2"/>
<line class="t" x1="523" y1="1104.3" x2="600" y2="1104.3"/>
<line class="t" x1="600" y1="1173.4" x2="625" y2="1173.4"/>
<line class="t" x1="525" y1="1241.3" x2="599" y2="1241.3"/>
<line class="t" x1="620.4" y1="1060.2" x2="620.4" y2="1173.4"/>
<polygon class="a" points="620.4,1060.2 617.9,1069.8 620.4,1067.88 622.9,1069.8"/>
<polygon class="a" points="620.4,1173.4 622.9,1163.8 620.4,1165.72 617.9,1163.8"/>
<line class="t" x1="596.5" y1="1104.3" x2="596.5" y2="1241.3"/>
<polygon class="a" points="596.5,1104.3 594,1113.9 596.5,1111.98 599,1113.9"/>
<polygon class="a" points="596.5,1241.3 599,1231.7 596.5,1233.62 594,1231.7"/>
<line class="t" x1="677.8" y1="1104.5" x2="677.8" y2="1241"/>
<line class="gd" x1="673.4" y1="1083.8" x2="760.4" y2="1083.8"/>
<path class="t" d="M705.6,1087.3 Q709,1086.3 710.4,1081 Q711.4,1074.1 716.8,1074.1 Q722.2,1074.1 723.2,1081 Q724.6,1086.3 728,1087.3" style="fill:#fff"/>
<line class="gl" x1="716.8" y1="1051.2" x2="716.8" y2="1080.5"/>
<line class="gd" x1="716.1" y1="1124" x2="716.1" y2="1221"/>
<rect class="k2" x="727" y="1224.6" width="13.8" height="6.6"/>
<line class="gd" x1="728.4" y1="1228.3" x2="739.4" y2="1228.3"/>
<polygon points="725.9,1223.5 741.9,1223.5 741.9,1222.6 725.9,1225.7" fill="#fff"/>
<path class="k" d="M679.9,1104.3 L679.9,1092.7 L675.9,1092.7 L675.9,1087.6 L672.9,1087.6 L672.9,1080 L679.9,1080 L679.9,1060.3 L753.5,1060.3 L753.5,1080 L760.5,1080 L760.5,1087.6 L757.9,1087.6 L757.9,1092.7 L753.4,1092.7 L749.3,1125 L749.3,1126.5 L759.9,1126.5 L759.9,1219.3 L749.3,1219.3"/>
<path class="k" d="M749.3,1219.3 Q748.7,1221.5 745.4,1222.3 L721.4,1227 Q717.7,1227.9 716.9,1232.5 Q715.4,1241.3 708.4,1241.3 L665.9,1241.3" style="stroke-width:1.5"/>
<polyline class="t" points="665.9,1241.8 665.9,1104.3 679.9,1104.3" style="stroke-width:1.4"/>
<polyline class="k" points="699.4,1059.8 699.4,1057.3 733.8,1057.3 733.8,1059.8"/>
<rect x="700.4" y="1058.3" width="32.4" height="3" fill="#fff"/>
<line class="gd" x1="700.4" y1="1060.8" x2="732.8" y2="1060.8" style="stroke-width:0.6;stroke:#aaa"/>
<line class="gl" x1="716.8" y1="1051.2" x2="716.8" y2="1074"/>
<line class="k" x1="679.9" y1="1080" x2="709.9" y2="1080"/>
<line class="k" x1="723.7" y1="1080" x2="753.5" y2="1080"/>
<line class="t" x1="675.9" y1="1087.6" x2="757.9" y2="1087.6"/>
<line class="t" x1="749.3" y1="1126.5" x2="749.3" y2="1219.3" style="stroke-width:1.4"/>
<line class="gd" x1="755.2" y1="1127" x2="755.2" y2="1219"/>
<path class="t" d="M680.2,1093 Q683.9,1095 684.1,1099 L684.1,1104.3"/>
<path class="t" d="M753,1093.2 Q749.6,1095 749.3,1099 L749.3,1124"/>
<path class="t" d="M679.9,1104.3 L707.6,1104.3 Q712.8,1104.9 714.6,1110.5 Q715.8,1116 719,1117.6 L749.3,1124.7"/>
<polygon class="t" points="698.6,1143.5 705.53,1147.5 705.53,1155.5 698.6,1159.5 691.67,1155.5 691.67,1147.5"/>
<path class="t" d="M685.2,1167.9 L685.2,1151.7 A13.4,13.4 0 0 1 712,1151.7 L712,1167.9"/>
<polygon class="t" points="734.9,1164.8 741.83,1168.8 741.83,1176.8 734.9,1180.8 727.97,1176.8 727.97,1168.8"/>
<rect class="k2" x="686.2" y="1241.3" width="14.2" height="6"/>
<line class="gd" x1="687.4" y1="1244.4" x2="699.4" y2="1244.4"/>
<line class="t" x1="762.4" y1="1173.4" x2="768.4" y2="1173.4"/>
<line class="t" x1="680" y1="1043" x2="680" y2="1057"/>
<line class="t" x1="753.5" y1="1043" x2="753.5" y2="1057"/>
<line class="t" x1="680" y1="1047.4" x2="753.5" y2="1047.4"/>
<polygon class="a" points="680,1047.4 689.6,1049.9 687.68,1047.4 689.6,1044.9"/>
<polygon class="a" points="753.5,1047.4 743.9,1044.9 745.82,1047.4 743.9,1049.9"/>
<circle cx="769.8" cy="1042.3" r="11.3" fill="#231f20"/>
<polygon class="garrow" points="783.9,1042.3 792.2,1035.9 792.2,1039.2 800.1,1039.2 800.1,1045.4 792.2,1045.4 792.2,1048.7"/>
<line class="t" x1="756.7" y1="1059.6" x2="836.4" y2="1059.6"/>
<line class="t" x1="712.4" y1="1104.3" x2="789.4" y2="1104.3"/>
<line class="t" x1="789.4" y1="1173.4" x2="814.4" y2="1173.4"/>
<line class="t" x1="714.4" y1="1241.3" x2="788.4" y2="1241.3"/>
<line class="t" x1="809.8" y1="1059.6" x2="809.8" y2="1173.4"/>
<polygon class="a" points="809.8,1059.6 807.3,1069.2 809.8,1067.28 812.3,1069.2"/>
<polygon class="a" points="809.8,1173.4 812.3,1163.8 809.8,1165.72 807.3,1163.8"/>
<line class="t" x1="785.9" y1="1104.3" x2="785.9" y2="1241.3"/>
<polygon class="a" points="785.9,1104.3 783.4,1113.9 785.9,1111.98 788.4,1113.9"/>
<polygon class="a" points="785.9,1241.3 788.4,1231.7 785.9,1233.62 783.4,1231.7"/>
<line class="gd" x1="889" y1="1070.9" x2="975" y2="1070.9"/>
<line class="gd" x1="889" y1="1074.5" x2="975" y2="1074.5"/>
<line class="gd" x1="889" y1="1078" x2="975" y2="1078"/>
<path class="k" d="M888.3,1053.5 L975.8,1053.5 L975.8,1075 L971.5,1082 L966.5,1097.5 M888.3,1053.5 L888.3,1075 L892.6,1082 L897.6,1097.5"/>
<polyline class="k" points="916.5,1053 916.5,1050.9 947.3,1050.9 947.3,1053"/>
<rect x="917.5" y="1051.9" width="28.8" height="2.6" fill="#fff"/>
<line class="gd" x1="917.5" y1="1054.2" x2="946.3" y2="1054.2" style="stroke-width:0.6;stroke:#aaa"/>
<path class="t" d="M892.6,1082 Q901,1082 902.5,1085 Q903.5,1088 903.8,1093.5 M971.5,1082 Q963,1082 961.5,1085 Q960.5,1088 960.2,1093.5"/>
<path d="M921,1076 Q925.5,1075 926.5,1071 Q926.5,1066.5 931.5,1066.5 Q936.5,1066.5 936.5,1071 Q937.5,1075 942,1076 z" fill="#fff"/>
<path class="gd" d="M921,1076 Q925.5,1075 926.5,1071 Q926.5,1066.5 931.5,1066.5 Q936.5,1066.5 936.5,1071 Q937.5,1075 942,1076"/>
<circle class="k" cx="931.5" cy="1172.8" r="82.1"/>
<path class="t" d="M931.5,1097.5 A75.3,75.3 0 1 1 931.49,1097.5" stroke-dasharray="10.3 6.7 2.7 6.63" stroke-dashoffset="16.63"/>
<circle class="t" cx="931.5" cy="1172.8" r="66.8"/>
<circle class="t" cx="931.5" cy="1172.8" r="49"/>
<circle class="t" cx="931.5" cy="1172.8" r="33.6"/>
<circle class="t" cx="931.5" cy="1172.8" r="29"/>
<circle class="t" cx="931.5" cy="1172.8" r="21.6"/>
<circle class="t" cx="947.16" cy="1099.15" r="4.5"/>
<circle class="t" cx="975.76" cy="1111.88" r="4.5"/>
<circle class="t" cx="996.71" cy="1135.15" r="4.5"/>
<circle class="t" cx="1006.39" cy="1164.93" r="4.5"/>
<circle class="t" cx="1003.11" cy="1196.07" r="4.5"/>
<circle class="t" cx="987.46" cy="1223.19" r="4.5"/>
<circle class="t" cx="962.13" cy="1241.59" r="4.5"/>
<circle class="t" cx="931.5" cy="1248.1" r="4.5"/>
<circle class="t" cx="900.87" cy="1241.59" r="4.5"/>
<circle class="t" cx="875.54" cy="1223.19" r="4.5"/>
<circle class="t" cx="859.89" cy="1196.07" r="4.5"/>
<circle class="t" cx="856.61" cy="1164.93" r="4.5"/>
<circle class="t" cx="866.29" cy="1135.15" r="4.5"/>
<circle class="t" cx="887.24" cy="1111.88" r="4.5"/>
<circle class="t" cx="915.84" cy="1099.15" r="4.5"/>
<g transform="rotate(0 931.5 1097.5)"><circle cx="931.5" cy="1097.5" r="4.4" fill="#fff" stroke="#231f20" stroke-width="1.1"/><path d="M931.5,1097.5 L931.5,1093.1 A4.4,4.4 0 0 1 935.9,1097.5 z M931.5,1097.5 L931.5,1101.9 A4.4,4.4 0 0 1 927.1,1097.5 z" fill="#231f20" stroke="#231f20" stroke-width="0.6"/></g>
<g transform="rotate(120 996.71 1210.45)"><circle cx="996.71" cy="1210.45" r="4.4" fill="#fff" stroke="#231f20" stroke-width="1.1"/><path d="M996.71,1210.45 L996.71,1206.05 A4.4,4.4 0 0 1 1001.11,1210.45 z M996.71,1210.45 L996.71,1214.85 A4.4,4.4 0 0 1 992.31,1210.45 z" fill="#231f20" stroke="#231f20" stroke-width="0.6"/></g>
<g transform="rotate(240 866.29 1210.45)"><circle cx="866.29" cy="1210.45" r="4.4" fill="#fff" stroke="#231f20" stroke-width="1.1"/><path d="M866.29,1210.45 L866.29,1206.05 A4.4,4.4 0 0 1 870.69,1210.45 z M866.29,1210.45 L866.29,1214.85 A4.4,4.4 0 0 1 861.89,1210.45 z" fill="#231f20" stroke="#231f20" stroke-width="0.6"/></g>
<line class="t" x1="843" y1="1172.8" x2="1018" y2="1172.8" stroke-dasharray="10.3 6.9 2.7 6.4" stroke-dashoffset="16.4"/>
<line class="t" x1="931.5" y1="1085.4" x2="931.5" y2="1260.3" stroke-dasharray="10.3 6.9 2.7 6.4" stroke-dashoffset="5"/>
<line class="t" x1="958.11" y1="1047.6" x2="969.76" y2="992.82"/>
<line class="t" x1="947.3" y1="1098.46" x2="957.28" y2="1051.51" stroke-dasharray="7 3"/>
<line class="t" x1="896.57" y1="1008.47" x2="893.24" y2="992.82"/>
<line class="t" x1="915.7" y1="1098.46" x2="900.31" y2="1026.08" stroke-dasharray="7 3"/>
<path class="t" d="M894.03,996.54 A180.2,180.2 0 0 1 968.97,996.54"/>
<polygon class="a" points="894.03,996.54 903.93,997.25 901.59,995.14 903.02,992.33"/>
<polygon class="a" points="968.97,996.54 959.98,992.33 961.41,995.14 959.07,997.25"/>
<line class="t" x1="926.5" y1="1022" x2="926.5" y2="1095"/>
<line class="t" x1="936.5" y1="1022" x2="936.5" y2="1095"/>
<line class="t" x1="865" y1="1025.5" x2="926.5" y2="1025.5"/>
<polygon class="a" points="926.5,1025.5 916.9,1023 918.82,1025.5 916.9,1028"/>
<line class="t" x1="936.5" y1="1025.5" x2="951" y2="1025.5"/>
<polygon class="a" points="936.5,1025.5 946.1,1028 944.18,1025.5 946.1,1023"/>
<line class="t" x1="856.4" y1="1165" x2="856.4" y2="1312"/>
<line class="t" x1="1006.4" y1="1165" x2="1006.4" y2="1312"/>
<line class="t" x1="856.4" y1="1307.8" x2="1006.4" y2="1307.8"/>
<polygon class="a" points="856.4,1307.8 866,1310.3 864.08,1307.8 866,1305.3"/>
<polygon class="a" points="1006.4,1307.8 996.8,1305.3 998.72,1307.8 996.8,1310.3"/>
<line class="t" x1="896.3" y1="1242" x2="896.3" y2="1286"/>
<line class="t" x1="905.3" y1="1242" x2="905.3" y2="1286"/>
<line class="t" x1="881" y1="1281.5" x2="896.3" y2="1281.5"/>
<polygon class="a" points="896.3,1281.5 886.7,1279 888.62,1281.5 886.7,1284"/>
<line class="t" x1="905.3" y1="1281.5" x2="1000" y2="1281.5"/>
<polygon class="a" points="905.3,1281.5 914.9,1284 912.98,1281.5 914.9,1279"/>
</g>
<g id="legend">
<circle cx="51" cy="1342.6" r="11.6" fill="#8c8a8b"/>
<circle cx="502.2" cy="1340.8" r="11.8" fill="#fff" stroke="#a9a9a9" stroke-width="1.3"/>
<rect class="t" x="87.4" y="1314.3" width="39.3" height="54.2" style="fill:#fff;stroke-width:1"/>
<line class="t" x1="93.1" y1="1318.5" x2="121.1" y2="1318.5" style="stroke-width:0.9"/>
<line class="t" x1="93.1" y1="1320.6" x2="121.1" y2="1320.6" style="stroke-width:0.9"/>
<line class="t" x1="93.1" y1="1322.6" x2="121.1" y2="1322.6" style="stroke-width:0.9"/>
<line class="t" x1="93.1" y1="1325.3" x2="121.1" y2="1325.3" style="stroke-width:0.9"/>
<line class="t" x1="93.1" y1="1327.7" x2="121.1" y2="1327.7" style="stroke-width:0.9"/>
<line class="t" x1="93.1" y1="1330.6" x2="121.1" y2="1330.6" style="stroke-width:0.9"/>
<line class="t" x1="93.1" y1="1351.4" x2="121.1" y2="1351.4" style="stroke-width:0.9"/>
<line class="t" x1="93.1" y1="1354.3" x2="121.1" y2="1354.3" style="stroke-width:0.9"/>
<line class="t" x1="93.1" y1="1356.4" x2="121.1" y2="1356.4" style="stroke-width:0.9"/>
<line class="t" x1="93.1" y1="1358.4" x2="121.1" y2="1358.4" style="stroke-width:0.9"/>
<line class="t" x1="93.1" y1="1361.4" x2="121.1" y2="1361.4" style="stroke-width:0.9"/>
<line class="t" x1="93.1" y1="1363.6" x2="121.1" y2="1363.6" style="stroke-width:0.9"/>
<polygon class="t" points="67.4,1336.4 75.3,1336.4 75.3,1331.2 82.8,1341.9 75.3,1352.6 75.3,1347.4 67.4,1347.4" style="fill:#fff;stroke-width:0.9"/>
<rect class="t" x="249.4" y="1314.3" width="38.3" height="54.2" style="fill:#fff;stroke-width:1"/>
<line class="t" x1="255.1" y1="1318.5" x2="283.1" y2="1318.5" style="stroke-width:0.9"/>
<line class="t" x1="255.1" y1="1320.6" x2="283.1" y2="1320.6" style="stroke-width:0.9"/>
<line class="t" x1="255.1" y1="1322.6" x2="283.1" y2="1322.6" style="stroke-width:0.9"/>
<line class="t" x1="255.1" y1="1325.3" x2="283.1" y2="1325.3" style="stroke-width:0.9"/>
<line class="t" x1="255.1" y1="1327.7" x2="283.1" y2="1327.7" style="stroke-width:0.9"/>
<line class="t" x1="255.1" y1="1330.6" x2="283.1" y2="1330.6" style="stroke-width:0.9"/>
<line class="t" x1="255.1" y1="1351.4" x2="283.1" y2="1351.4" style="stroke-width:0.9"/>
<line class="t" x1="255.1" y1="1354.3" x2="283.1" y2="1354.3" style="stroke-width:0.9"/>
<line class="t" x1="255.1" y1="1356.4" x2="283.1" y2="1356.4" style="stroke-width:0.9"/>
<line class="t" x1="255.1" y1="1358.4" x2="283.1" y2="1358.4" style="stroke-width:0.9"/>
<line class="t" x1="255.1" y1="1361.4" x2="283.1" y2="1361.4" style="stroke-width:0.9"/>
<line class="t" x1="255.1" y1="1363.6" x2="283.1" y2="1363.6" style="stroke-width:0.9"/>
<polygon class="t" points="228.6,1336.4 236.5,1336.4 236.5,1331.2 244,1341.9 236.5,1352.6 236.5,1347.4 228.6,1347.4" style="fill:#fff;stroke-width:0.9"/>
<rect class="t" x="398.3" y="1314.3" width="39.2" height="54.2" style="fill:#fff;stroke-width:1"/>
<line class="t" x1="404" y1="1318.5" x2="432" y2="1318.5" style="stroke-width:0.9"/>
<line class="t" x1="404" y1="1320.6" x2="432" y2="1320.6" style="stroke-width:0.9"/>
<line class="t" x1="404" y1="1322.6" x2="432" y2="1322.6" style="stroke-width:0.9"/>
<line class="t" x1="404" y1="1325.3" x2="432" y2="1325.3" style="stroke-width:0.9"/>
<line class="t" x1="404" y1="1327.7" x2="432" y2="1327.7" style="stroke-width:0.9"/>
<line class="t" x1="404" y1="1330.6" x2="432" y2="1330.6" style="stroke-width:0.9"/>
<line class="t" x1="404" y1="1351.4" x2="432" y2="1351.4" style="stroke-width:0.9"/>
<line class="t" x1="404" y1="1354.3" x2="432" y2="1354.3" style="stroke-width:0.9"/>
<line class="t" x1="404" y1="1356.4" x2="432" y2="1356.4" style="stroke-width:0.9"/>
<line class="t" x1="404" y1="1358.4" x2="432" y2="1358.4" style="stroke-width:0.9"/>
<line class="t" x1="404" y1="1361.4" x2="432" y2="1361.4" style="stroke-width:0.9"/>
<line class="t" x1="404" y1="1363.6" x2="432" y2="1363.6" style="stroke-width:0.9"/>
<polygon class="t" points="380.3,1336.4 388.2,1336.4 388.2,1331.2 395.7,1341.9 388.2,1352.6 388.2,1347.4 380.3,1347.4" style="fill:#fff;stroke-width:0.9"/>
<rect class="t" x="537.4" y="1313.3" width="38.4" height="54.2" style="fill:#fff;stroke-width:1"/>
<line class="t" x1="543.1" y1="1317.5" x2="571.1" y2="1317.5" style="stroke-width:0.9"/>
<line class="t" x1="543.1" y1="1319.6" x2="571.1" y2="1319.6" style="stroke-width:0.9"/>
<line class="t" x1="543.1" y1="1321.6" x2="571.1" y2="1321.6" style="stroke-width:0.9"/>
<line class="t" x1="543.1" y1="1324.3" x2="571.1" y2="1324.3" style="stroke-width:0.9"/>
<line class="t" x1="543.1" y1="1326.7" x2="571.1" y2="1326.7" style="stroke-width:0.9"/>
<line class="t" x1="543.1" y1="1329.6" x2="571.1" y2="1329.6" style="stroke-width:0.9"/>
<line class="t" x1="543.1" y1="1350.4" x2="571.1" y2="1350.4" style="stroke-width:0.9"/>
<line class="t" x1="543.1" y1="1353.3" x2="571.1" y2="1353.3" style="stroke-width:0.9"/>
<line class="t" x1="543.1" y1="1355.4" x2="571.1" y2="1355.4" style="stroke-width:0.9"/>
<line class="t" x1="543.1" y1="1357.4" x2="571.1" y2="1357.4" style="stroke-width:0.9"/>
<line class="t" x1="543.1" y1="1360.4" x2="571.1" y2="1360.4" style="stroke-width:0.9"/>
<line class="t" x1="543.1" y1="1362.6" x2="571.1" y2="1362.6" style="stroke-width:0.9"/>
<polygon class="t" points="518.3,1335.4 526.2,1335.4 526.2,1330.2 533.7,1340.9 526.2,1351.6 526.2,1346.4 518.3,1346.4" style="fill:#fff;stroke-width:0.9"/>
</g>
<g id="logo" style="filter:grayscale(1)">
<rect x="874.4" y="1447.3" width="145.2" height="39.2" rx="8.5" fill="#fff" stroke="#231f20" stroke-width="0.8"/>
<path d="M944,1449.6 L960.6,1449.6 Q963,1449.6 962.5,1452 L959.2,1467.6 Q958.7,1469.9 956.3,1469.9 L939.6,1469.9 Q937.2,1469.9 937.7,1467.6 L941.2,1452 Q941.7,1449.6 944,1449.6 z" fill="#fff" stroke="#231f20" stroke-width="0.6"/>
<path d="M944.6,1451.3 L959.3,1451.3 Q961.1,1451.3 960.7,1453 L957.7,1466.6 Q957.3,1468.3 955.5,1468.3 L940.8,1468.3 Q939.1,1468.3 939.5,1466.6 L942.6,1453 Q943,1451.3 944.6,1451.3 z" fill="#fff" stroke="#231f20" stroke-width="1"/>
<path d="M950.9,1451.4 L961,1451.4 L957.4,1468 L955.3,1468 L957.5,1457.8 L949.6,1457.8 z" fill="#231f20"/>
<line x1="949.7" y1="1457.6" x2="947.6" y2="1468" stroke="#231f20" stroke-width="0.8"/>
<text transform="translate(0 1469.5) scale(1 0.9) translate(0 -1469.5)" x="961.4" y="1469.5" font-family="'Liberation Sans', sans-serif" font-weight="bold" font-style="italic" font-size="13.8" textLength="51.8" lengthAdjust="spacingAndGlyphs" fill="#231f20" stroke="#231f20" stroke-width="0.9" stroke-linejoin="round">brevini</text>
<text transform="translate(0 1482.8) scale(1 0.9) translate(0 -1482.8)" x="939.8" y="1482.8" font-family="'Liberation Sans', sans-serif" font-weight="bold" font-style="italic" font-size="13.8" textLength="65.8" lengthAdjust="spacingAndGlyphs" fill="#231f20" stroke="#231f20" stroke-width="0.9" stroke-linejoin="round">riduttori</text>
</g>
</svg>
</body></html>
